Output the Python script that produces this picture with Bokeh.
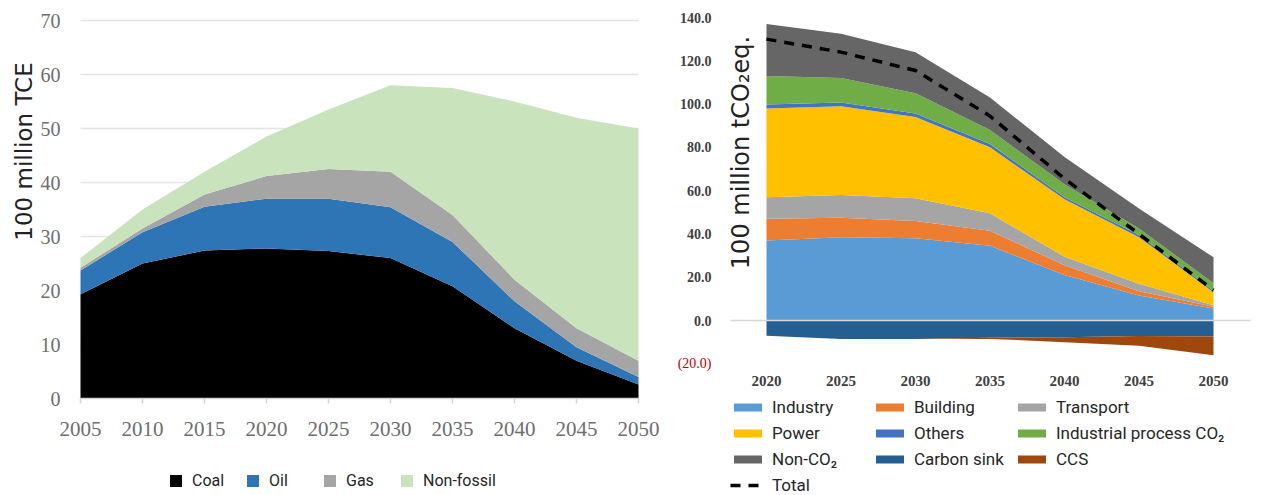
import math
from bokeh.plotting import figure
from bokeh.models import (ColumnDataSource, Legend, LegendItem, Label, Range1d)
from bokeh.core.properties import value
from bokeh.layouts import row
from bokeh.embed import file_html
from bokeh.resources import INLINE

# ---------------- Left chart data (100 million TCE) ----------------
years_left = [2005, 2010, 2015, 2020, 2025, 2030, 2035, 2040, 2045, 2050]
coal = [19.3, 25.0, 27.4, 27.8, 27.3, 26.0, 20.8, 13.0, 7.0, 2.6]
oil = [4.4, 5.8, 8.1, 9.2, 9.7, 9.4, 8.2, 5.0, 2.5, 1.4]
gas = [0.5, 0.7, 2.3, 4.2, 5.5, 6.6, 5.0, 4.0, 3.5, 3.0]
non_fossil = [1.8, 3.5, 4.2, 7.3, 11.0, 16.0, 23.5, 33.0, 39.0, 43.0]
left_y_ticks = [0, 10, 20, 30, 40, 50, 60, 70]
left_y_labels = ["0", "10", "20", "30", "40", "50", "60", "70"]
left_x_ticks = [2005, 2010, 2015, 2020, 2025, 2030, 2035, 2040, 2045, 2050]
left_names = ["Coal", "Oil", "Gas", "Non-fossil"]
left_colors = ["#000000", "#2E75B6", "#A5A5A5", "#C9E3BC"]

# ---------------- Right chart data (100 million tCO2eq.) ----------------
years_right = [2020, 2025, 2030, 2035, 2040, 2045, 2050]
industry = [37.0, 38.5, 38.0, 34.5, 21.0, 11.5, 5.5]
building = [10.0, 9.0, 8.0, 7.0, 4.5, 2.0, 0.8]
transport = [10.0, 10.5, 10.5, 8.0, 4.0, 3.5, 0.8]
power = [41.0, 41.0, 37.5, 30.5, 26.5, 21.5, 6.0]
others = [1.8, 1.7, 1.6, 1.5, 1.0, 1.0, 0.6]
industrial_process = [13.2, 11.3, 9.4, 6.5, 6.0, 3.0, 3.5]
non_co2 = [24.0, 20.5, 19.0, 15.0, 12.5, 9.2, 12.0]
carbon_sink = [-7.0, -8.5, -8.5, -8.0, -7.7, -7.2, -7.4]
ccs = [0.0, 0.0, 0.0, -0.5, -2.3, -4.5, -8.6]
total = [130.0, 124.0, 115.5, 94.5, 65.5, 40.0, 14.0]
right_y_ticks = [-20, 0, 20, 40, 60, 80, 100, 120, 140]
right_y_labels = ["(20.0)", "0.0", "20.0", "40.0", "60.0", "80.0", "100.0",
                  "120.0", "140.0"]
right_y_label_colors = ["#C00000"] + ["#404040"] * 8
right_y_label_styles = ["normal"] + ["bold"] * 8
right_x_ticks = [2020, 2025, 2030, 2035, 2040, 2045, 2050]
pos_names = ["Industry", "Building", "Transport", "Power", "Others",
             "Industrial process CO\u2082", "Non-CO\u2082"]
pos_colors = ["#5B9BD5", "#ED7D31", "#A5A5A5", "#FFC000", "#4472C4",
              "#70AD47", "#666666"]
neg_names = ["Carbon sink", "CCS"]
neg_colors = ["#255E91", "#9E480E"]
legend_order = ["Industry", "Building", "Transport", "Power", "Others",
                "Industrial process CO\u2082", "Non-CO\u2082", "Carbon sink",
                "CCS", "Total"]

SERIF = "Liberation Serif"
SANS = "Roboto"
H = 495

# ---- layout (pixel) constants; each frame covers its whole canvas ----
W1 = 665
L_X0_PX, L_X1_PX = 80, 638          # pixels of first / last year
L_Y0_PX, L_YTOP_PX = 398, 20        # pixels of 0 and of the top tick
W2 = 607
R_X0_PX, R_X1_PX = 101, 548         # pixels (inside right canvas) of 2020/2050
R_Y0_PX, R_YTOP_PX = 320, 17        # pixels of 0.0 and 140.0


def x_range_for(px0, px1, v0, v1, size):
    k = (px1 - px0) / (v1 - v0)
    return Range1d(v0 - px0 / k, v0 + (size - px0) / k), k


# ================= LEFT FIGURE =================
lx_range, lkx = x_range_for(L_X0_PX, L_X1_PX, years_left[0], years_left[-1], W1)
k1 = (L_Y0_PX - L_YTOP_PX) / (left_y_ticks[-1] - left_y_ticks[0])
ly_range = Range1d(-(H - L_Y0_PX) / k1, L_Y0_PX / k1)

p1 = figure(width=W1, height=H, x_range=lx_range, y_range=ly_range,
            output_backend="svg", toolbar_location=None, min_border=0)
p1.outline_line_color = None
p1.axis.visible = False
p1.grid.visible = False

src_l = ColumnDataSource(dict(year=years_left, coal=coal, oil=oil, gas=gas,
                              nonfossil=non_fossil))
# horizontal grid lines (behind the areas)
n_grid = len(left_y_ticks) - 1
p1.segment(x0=[years_left[0]] * n_grid, x1=[years_left[-1]] * n_grid,
           y0=left_y_ticks[1:], y1=left_y_ticks[1:], line_color="#e4e4e4",
           line_width=1.5)
r_left = p1.varea_stack(stackers=["coal", "oil", "gas", "nonfossil"], x="year",
                        color=left_colors, source=src_l)
# x axis line and tick marks
p1.segment(x0=[years_left[0]], x1=[years_left[-1]], y0=[0], y1=[0],
           line_color="#d4d4d4", line_width=1.5)
tick_len = 5 / k1
p1.segment(x0=left_x_ticks, x1=left_x_ticks, y0=[0] * len(left_x_ticks),
           y1=[-tick_len] * len(left_x_ticks), line_color="#d4d4d4",
           line_width=1.5)
# tick labels
p1.text(x=[lx_range.start + 60 / lkx] * len(left_y_ticks), y=left_y_ticks,
        text=left_y_labels, text_align="right", text_baseline="middle",
        text_font=value(SERIF), text_font_size=value("20px"),
        text_color="#6e6e6e")
p1.text(x=left_x_ticks, y=[-30 / k1] * len(left_x_ticks),
        text=[str(t) for t in left_x_ticks], text_align="center",
        text_baseline="middle", text_font=value(SERIF),
        text_font_size=value("21px"), text_color="#6e6e6e")

p1.add_layout(Label(x=23, y=H - 151, x_units="screen", y_units="screen",
                    text="100 million TCE", angle=math.pi / 2,
                    text_align="center", text_baseline="middle",
                    text_font="DejaVu Sans", text_font_size="23px",
                    text_color="#222222"))

leg1 = Legend(items=[LegendItem(label=n, renderers=[r])
                     for n, r in zip(left_names, r_left)],
              orientation="horizontal", location=(168, 5),
              glyph_width=15, glyph_height=15, label_standoff=9,
              label_width=47, spacing=6, padding=0, margin=0,
              border_line_color=None, background_fill_alpha=0,
              label_text_font=SANS, label_text_font_size="16px",
              label_text_color="#262626", label_height=20)
p1.add_layout(leg1, "center")

# ================= RIGHT FIGURE =================
rx_range, rkx = x_range_for(R_X0_PX, R_X1_PX, years_right[0], years_right[-1], W2)
k2 = (R_Y0_PX - R_YTOP_PX) / right_y_ticks[-1]
ry_range = Range1d(-(H - R_Y0_PX) / k2, R_Y0_PX / k2)

p2 = figure(width=W2, height=H, x_range=rx_range, y_range=ry_range,
            output_backend="svg", toolbar_location=None, min_border=0)
p2.outline_line_color = None
p2.axis.visible = False
p2.grid.visible = False

src_r = ColumnDataSource(dict(year=years_right, industry=industry,
                              building=building, transport=transport,
                              power=power, others=others,
                              indproc=industrial_process, nonco2=non_co2,
                              sink=carbon_sink, ccs=ccs, total=total))
r_pos = p2.varea_stack(stackers=["industry", "building", "transport", "power",
                                 "others", "indproc", "nonco2"],
                       x="year", color=pos_colors, source=src_r)
r_neg = p2.varea_stack(stackers=["sink", "ccs"], x="year", color=neg_colors,
                       source=src_r)
# zero line (extends a little beyond the data on both sides)
zx0 = rx_range.start + 65 / rkx
zx1 = rx_range.start + 585 / rkx
p2.segment(x0=[zx0], x1=[zx1], y0=[0], y1=[0], line_color="#d6d6d6",
           line_width=1.5)
r_total = p2.line(x="year", y="total", source=src_r, line_color="black",
                  line_width=3.5, line_dash="10 8")

p2.text(x=[rx_range.start + 46 / rkx] * len(right_y_ticks), y=right_y_ticks,
        text=right_y_labels, text_align="right", text_baseline="middle",
        text_font=value(SERIF), text_font_size=value("14px"),
        text_font_style=right_y_label_styles, text_color=right_y_label_colors)
p2.text(x=right_x_ticks, y=[-(380 - R_Y0_PX) / k2] * len(right_x_ticks),
        text=[str(t) for t in right_x_ticks], text_align="center",
        text_baseline="middle", text_font=value(SERIF),
        text_font_size=value("15px"), text_font_style="bold",
        text_color="#404040")

p2.add_layout(Label(x=75, y=H - 152, x_units="screen", y_units="screen",
                    text="100 million tCO\u2082eq.", angle=math.pi / 2,
                    text_align="center", text_baseline="middle",
                    text_font="DejaVu Sans", text_font_size="24px",
                    text_color="#222222"))

item_map = {n: LegendItem(label=n, renderers=[r])
            for n, r in zip(pos_names, r_pos)}
item_map.update({n: LegendItem(label=n, renderers=[r])
                 for n, r in zip(neg_names, r_neg)})
item_map["Total"] = LegendItem(label="Total", renderers=[r_total])
leg2 = Legend(items=[item_map[k] for k in legend_order],
              orientation="horizontal", ncols=3,
              location=(65, 0), glyph_width=35, glyph_height=10,
              label_standoff=7, label_width=94, spacing=6, padding=0,
              margin=0, border_line_color=None, background_fill_alpha=0,
              label_text_font=SANS, label_text_font_size="17px",
              label_text_color="#262626", label_height=20)
p2.add_layout(leg2, "center")

layout = row(p1, p2)
open("out.html", "w").write(file_html(layout, INLINE))
